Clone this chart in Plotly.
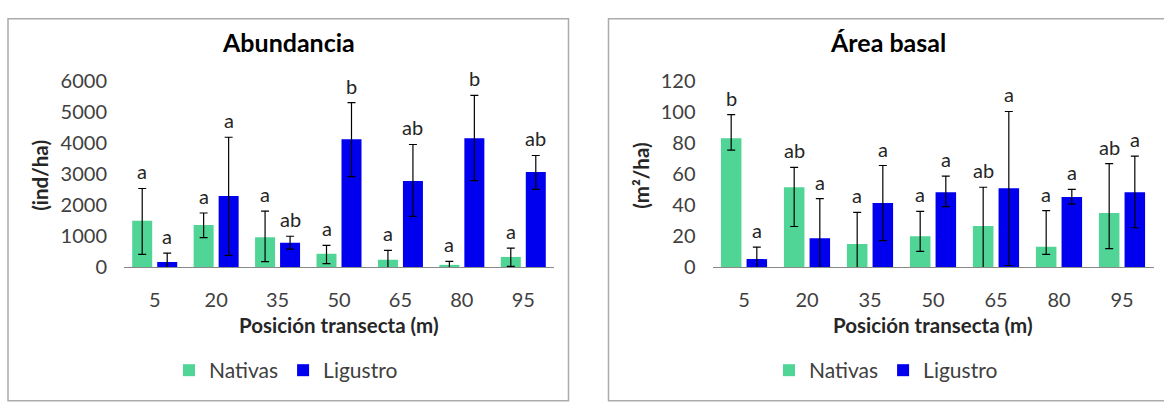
import plotly.graph_objects as go

W, H = 1164, 406

categories = ["5", "20", "35", "50", "65", "80", "95"]

# Abundancia (ind/ha)
ab_nat = [1490, 1350, 960, 425, 235, 70, 325]
ab_nat_up = [1040, 390, 840, 275, 301, 112, 282]
ab_nat_dn = [1085, 400, 788, 314, 300, 110, 305]
ab_lig = [162, 2287, 779, 4119, 2773, 4150, 3057]
ab_lig_up = [283, 1893, 213, 1174, 1174, 1376, 536]
ab_lig_dn = [280, 1913, 202, 1204, 1143, 1367, 557]
ab_nat_letters = ["a", "a", "a", "a", "a", "a", "a"]
ab_lig_letters = ["a", "a", "ab", "b", "ab", "b", "ab"]

# Área basal (m²/ha)
ar_nat = [83.0, 51.4, 14.8, 19.8, 26.5, 13.0, 34.8]
ar_nat_up = [15.2, 12.8, 20.4, 16.0, 24.9, 23.4, 31.8]
ar_nat_dn = [7.7, 25.3, 20.4, 9.7, 27.0, 4.9, 22.9]
ar_lig = [5.1, 18.6, 41.3, 48.2, 50.8, 45.1, 48.2]
ar_lig_up = [7.7, 25.5, 24.1, 10.3, 49.4, 4.9, 23.3]
ar_lig_dn = [7.7, 25.5, 24.3, 9.3, 49.8, 4.6, 22.9]
ar_nat_letters = ["b", "ab", "a", "a", "ab", "a", "ab"]
ar_lig_letters = ["a", "a", "a", "a", "a", "a", "a"]

GREEN = "#50D597"
BLUE = "#0000EE"
FONT = "Lato"
TICK_COLOR = "#404040"

BARGAP = 0.186
BARGROUPGAP = 0.2


def px(x):
    return x / W


def py(y):
    return 1 - y / H


fig = go.Figure()

err_style = dict(type="data", symmetric=False, color="black", thickness=1.2, width=4)

panels = [
    dict(xa="x", ya="y", legend="legend", nat=ab_nat, nat_up=ab_nat_up, nat_dn=ab_nat_dn,
         lig=ab_lig, lig_up=ab_lig_up, lig_dn=ab_lig_dn,
         nl=ab_nat_letters, ll=ab_lig_letters),
    dict(xa="x2", ya="y2", legend="legend2", nat=ar_nat, nat_up=ar_nat_up, nat_dn=ar_nat_dn,
         lig=ar_lig, lig_up=ar_lig_up, lig_dn=ar_lig_dn,
         nl=ar_nat_letters, ll=ar_lig_letters),
]

annotations = []
offset = (1 - BARGAP) / 4.0
for p in panels:
    fig.add_trace(go.Bar(x=categories, y=p["nat"], name="Nativas", marker_color=GREEN,
                         marker_line_width=0, xaxis=p["xa"], yaxis=p["ya"], legend=p["legend"],
                         error_y=dict(array=p["nat_up"], arrayminus=p["nat_dn"], **err_style)))
    fig.add_trace(go.Bar(x=categories, y=p["lig"], name="Ligustro", marker_color=BLUE,
                         marker_line_width=0, xaxis=p["xa"], yaxis=p["ya"], legend=p["legend"],
                         error_y=dict(array=p["lig_up"], arrayminus=p["lig_dn"], **err_style)))
    for i in range(len(categories)):
        for vals, ups, letters, sgn in ((p["nat"], p["nat_up"], p["nl"], -1),
                                         (p["lig"], p["lig_up"], p["ll"], 1)):
            annotations.append(dict(x=i + sgn * offset, y=vals[i] + ups[i], xref=p["xa"], yref=p["ya"],
                                    text=letters[i], showarrow=False, yanchor="bottom", yshift=3,
                                    font=dict(family=FONT, size=20, color="#262626")))

# titles
texts = [
    ("<b>Abundancia</b>", 288, 31, 25, 0),
    ("<b>Área basal</b>", 888, 31, 25, 0),
    ("<b>Posición transecta (m)</b>", 339, 332, 20.5, 0),
    ("<b>Posición transecta (m)</b>", 933, 332, 20.5, 0),
    ("<b>(ind/ha)</b>", 40, 173, 20.5, -90),
    ("<b>(m²/ha)</b>", 641, 173, 20.5, -90),
]
for t, x, y, s, ang in texts:
    annotations.append(dict(text=t, x=px(x), y=py(y), xref="paper", yref="paper", showarrow=False,
                            xanchor="center", yanchor="middle", textangle=ang,
                            font=dict(family=FONT, size=s, color="#000000" if s > 22 else "#262626")))

shapes = [
    dict(type="rect", xref="paper", yref="paper", x0=px(8), x1=px(568.5), y0=py(412), y1=py(6),
         line=dict(color="#ABABAB", width=1.5), layer="below"),
    dict(type="rect", xref="paper", yref="paper", x0=px(608.5), x1=px(1170), y0=py(412), y1=py(6),
         line=dict(color="#ABABAB", width=1.5), layer="below"),
]

xaxis_common = dict(type="category", showgrid=False, showline=True, linecolor="#898989", linewidth=1.3,
                    ticks="", tickfont=dict(family=FONT, size=20, color=TICK_COLOR),
                    ticklabelstandoff=15, zeroline=False, fixedrange=True)
yaxis_common = dict(showgrid=False, showline=False, zeroline=False, ticks="",
                    tickfont=dict(family=FONT, size=20, color=TICK_COLOR), ticklabelstandoff=16,
                    domain=[py(270), py(72)])

fig.update_layout(
    width=W, height=H, margin=dict(l=0, r=0, t=0, b=0),
    paper_bgcolor="white", plot_bgcolor="white",
    barmode="group", bargap=BARGAP, bargroupgap=BARGROUPGAP,
    xaxis=dict(domain=[px(124), px(554)], anchor="y", **xaxis_common),
    yaxis=dict(anchor="x", range=[0, 6000], dtick=1000, **yaxis_common),
    xaxis2=dict(domain=[px(712.5), px(1153.5)], anchor="y2", **xaxis_common),
    yaxis2=dict(anchor="x2", range=[0, 120], dtick=20, **yaxis_common),
    legend=dict(orientation="h", x=px(286), y=py(380), xanchor="center", yanchor="middle",
                font=dict(family=FONT, size=21, color=TICK_COLOR), bgcolor="rgba(0,0,0,0)"),
    legend2=dict(orientation="h", x=px(886), y=py(380), xanchor="center", yanchor="middle",
                 font=dict(family=FONT, size=21, color=TICK_COLOR), bgcolor="rgba(0,0,0,0)"),
    annotations=annotations, shapes=shapes, showlegend=True,
)

fig.write_html("out.html")
